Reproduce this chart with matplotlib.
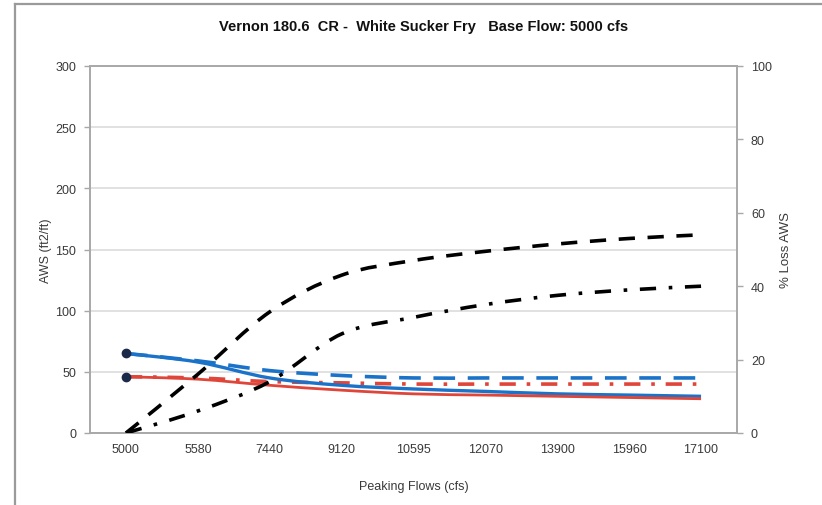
import matplotlib
matplotlib.use("Agg")
import matplotlib.pyplot as plt
from matplotlib.lines import Line2D
from matplotlib.path import Path
from matplotlib.patches import PathPatch

categories = ["5000", "5580", "7440", "9120", "10595", "12070", "13900", "15960", "17100"]
aws_blue = [65, 58, 45, 39, 36, 34, 32, 31, 30]
aws_red = [46, 44, 39, 35, 32, 31, 30, 29, 28]
aws_blue_base = [65, 59, 51, 47, 45, 45, 45, 45, 45]
aws_red_base = [46, 45, 42, 41, 40, 40, 40, 40, 40]
loss_dashed = [0, 16, 33, 43, 47, 49.5, 51.5, 53, 54]
loss_dashdot = [0, 6, 14, 27, 31.5, 35, 37.5, 39, 40]

plt.rcParams['font.family'] = ['Liberation Sans', 'DejaVu Sans']

W, H = 822, 506
fig = plt.figure(figsize=(W / 100, H / 100), dpi=100)
fig.patch.set_facecolor('white')

# outer chart border
fig.add_artist(Line2D([15 / W, 15 / W], [0, 1 - 5 / H], color='#9a9a9a', lw=1.6))
fig.add_artist(Line2D([15 / W, 1], [1 - 5 / H, 1 - 5 / H], color='#9a9a9a', lw=1.6))

ax = fig.add_axes([90 / W, 1 - 434 / H, (737 - 90) / W, (434 - 67) / H])
ax2 = ax.twinx()

x = list(range(len(categories)))
blue = '#1a73c9'
red = '#e0453a'


def smooth_line(axis, xs, ys, **kw):
    """Draw an Excel-style smoothed line through the data points (Bezier segments)."""
    n = len(xs)
    verts = [(xs[0], ys[0])]
    codes = [Path.MOVETO]
    for i in range(n - 1):
        x0, y0 = xs[max(i - 1, 0)], ys[max(i - 1, 0)]
        x1, y1 = xs[i], ys[i]
        x2, y2 = xs[i + 1], ys[i + 1]
        x3, y3 = xs[min(i + 2, n - 1)], ys[min(i + 2, n - 1)]
        c1 = (x1 + (x2 - x0) / 6, y1 + (y2 - y0) / 6)
        c2 = (x2 - (x3 - x1) / 6, y2 - (y3 - y1) / 6)
        verts += [c1, c2, (x2, y2)]
        codes += [Path.CURVE4] * 3
    patch = PathPatch(Path(verts, codes), fill=False, capstyle='butt', joinstyle='round', **kw)
    axis.add_patch(patch)


smooth_line(ax, x, aws_blue_base, edgecolor=blue, lw=2.6, ls=(0, (6, 3.5)), zorder=3)
smooth_line(ax, x, aws_red_base, edgecolor=red, lw=2.6, ls=(0, (4.5, 3, 1, 3)), zorder=3)
smooth_line(ax, x, aws_blue, edgecolor=blue, lw=2.4, zorder=4)
smooth_line(ax, x, aws_red, edgecolor=red, lw=2.0, zorder=4)
ax.plot([x[0]], [aws_blue[0]], 'o', color='#1c2a4a', ms=6, zorder=5)
ax.plot([x[0]], [aws_red[0]], 'o', color='#1c2a4a', ms=6, zorder=5)

smooth_line(ax2, x, loss_dashed, edgecolor='black', lw=2.6, ls=(0, (4.5, 3.5)), zorder=3)
smooth_line(ax2, x, loss_dashdot, edgecolor='black', lw=2.6, ls=(0, (4.5, 3.5, 1, 3.5)), zorder=3)

ax.set_xlim(-0.5, len(categories) - 0.5)
ax.set_ylim(0, 300)
ax.set_yticks(range(0, 301, 50))
ax2.set_ylim(0, 100)
ax2.set_yticks(range(0, 101, 20))
ax.set_xticks(x)
ax.set_xticklabels(categories)

ax.yaxis.grid(True, color='#dcdcdc', lw=1.2)
ax.set_axisbelow(True)

for a in (ax, ax2):
    for s in a.spines.values():
        s.set_color('#a8a8a8')
        s.set_linewidth(1.2)
    a.tick_params(colors='#3a3a3a', labelsize=9, length=4, width=1, color='#a8a8a8')
ax.tick_params(axis='x', length=0, pad=7)
ax.tick_params(axis='y', pad=6)
ax2.tick_params(axis='y', pad=6)

ax.set_ylabel('AWS (ft2/ft)', fontsize=9, color='#3a3a3a', labelpad=2)
ax2.set_ylabel('% Loss AWS', fontsize=9.5, color='#3a3a3a', rotation=90, labelpad=6)
ax.set_xlabel('Peaking Flows (cfs)', fontsize=9, color='#3a3a3a', labelpad=18)

fig.text(424 / W, 1 - 27 / H, 'Vernon 180.6  CR -  White Sucker Fry   Base Flow: 5000 cfs',
         ha='center', va='center', fontsize=10.5, fontweight='bold', color='#111111')

fig.savefig('out.png', dpi=100, facecolor='white')
